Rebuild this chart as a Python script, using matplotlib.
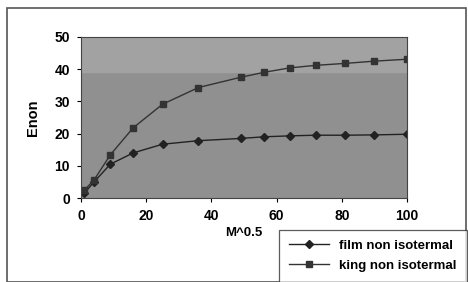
import matplotlib
matplotlib.use("Agg")
import matplotlib.pyplot as plt
from matplotlib.patches import Rectangle

plt.rcParams['font.family'] = ['Liberation Sans', 'DejaVu Sans']
plt.rcParams['font.weight'] = 'bold'

# data
m_sqrt = [1, 4, 9, 16, 25, 36, 49, 56, 64, 72, 81, 90, 100]
film_non_iso = [1.5, 5.0, 10.5, 14.0, 16.7, 17.8, 18.5, 19.0, 19.3, 19.5, 19.5, 19.6, 19.8]
king_non_iso = [2.4, 5.6, 13.4, 21.8, 29.1, 34.3, 37.5, 39.0, 40.4, 41.2, 41.8, 42.5, 43.1]

fig = plt.figure(figsize=(4.68, 2.82), dpi=100)
fig.patch.set_facecolor('white')

# outer chart border
fig.patches.append(Rectangle((7 / 468, 0.0), 459 / 468, 1 - 8 / 282,
                             transform=fig.transFigure, fill=False,
                             edgecolor='#555555', linewidth=1.2))

ax = fig.add_axes([81 / 468, 1 - 198 / 282, 326 / 468, 161 / 282])
ax.set_facecolor('#909090')
ax.axhspan(39, 50, color='#a2a2a2', zorder=0)

ax.plot(m_sqrt, film_non_iso, color='#222222', marker='D', markersize=4,
        linewidth=1.0, label='film non isotermal')
ax.plot(m_sqrt, king_non_iso, color='#333333', marker='s', markersize=4.5,
        linewidth=1.0, label='king non isotermal')

ax.set_xlim(0, 100)
ax.set_ylim(0, 50)
ax.set_xticks([0, 20, 40, 60, 80, 100])
ax.set_yticks([0, 10, 20, 30, 40, 50])
ax.tick_params(labelsize=10, length=3, direction='out', pad=5, width=0.8)
for s in ax.spines.values():
    s.set_color('#444444')

ax.set_xlabel('M^0.5', fontsize=9.5, fontweight='bold', labelpad=3)
ax.set_ylabel('Enon', fontsize=10.5, fontweight='bold', labelpad=10)

leg = fig.legend(loc='lower right', bbox_to_anchor=(0.997, 0.0),
                 frameon=True, fancybox=False, fontsize=9.5,
                 handlelength=3.0, borderpad=0.75, labelspacing=0.6,
                 borderaxespad=0.0)
leg.get_frame().set_edgecolor('#333333')
leg.get_frame().set_linewidth(0.9)

fig.savefig("out.png", dpi=100)
